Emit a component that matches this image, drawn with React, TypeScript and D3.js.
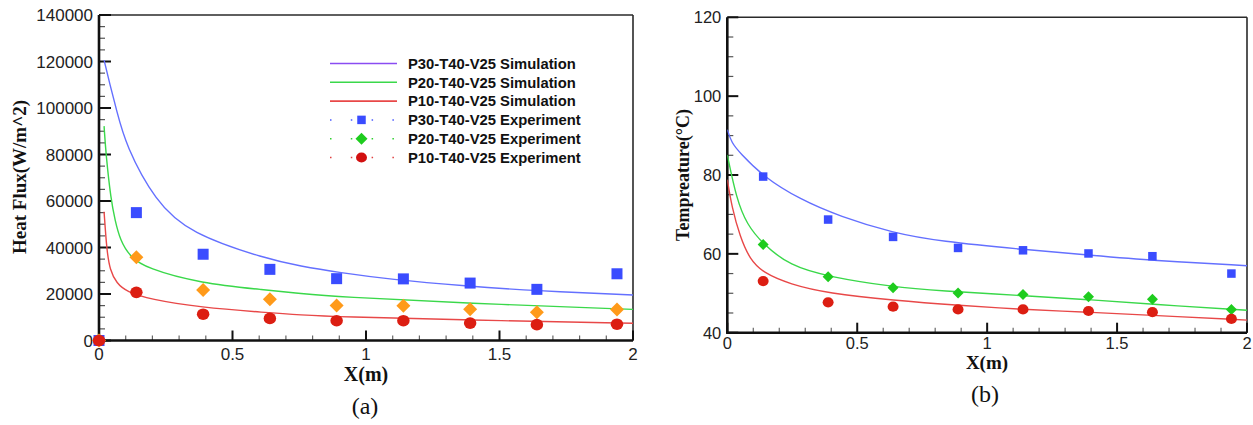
import React from "react";
import * as d3 from "d3";

// ---- Panel (a): heat flux along X ----
const xTicks = [0, 0.5, 1, 1.5, 2];
const xTickLabels = ["0", "0.5", "1", "1.5", "2"];
const fluxTicks = [0, 20000, 40000, 60000, 80000, 100000, 120000, 140000];
const fluxTickLabels = ["0", "20000", "40000", "60000", "80000", "100000", "120000", "140000"];

const xExpA = [0, 0.14, 0.39, 0.64, 0.89, 1.14, 1.39, 1.64, 1.94];
const fluxExpP30 = [0, 55000, 37100, 30600, 26600, 26500, 24700, 22000, 28700];
const fluxExpP20 = [0, 35800, 21700, 17700, 15100, 15000, 13400, 12100, 13300];
const fluxExpP10 = [0, 20700, 11300, 9500, 8500, 8500, 7500, 6800, 7000];

const xSimP30A = [0.019, 0.041, 0.066, 0.1, 0.21, 0.34, 0.63, 0.753, 0.9, 1.09, 1.377, 1.627, 2.0];
const fluxSimP30 = [120600, 110000, 99000, 84000, 60000, 46000, 35000, 32000, 29200, 26300, 23400, 21400, 19600];
const xSimP20A = [0.019, 0.026, 0.045, 0.06, 0.079, 0.116, 0.179, 0.378, 0.628, 0.753, 0.9, 1.377, 2.0];
const fluxSimP20 = [92200, 80000, 60300, 51800, 43200, 36000, 31000, 24600, 21700, 20200, 18800, 16000, 13400];
const xSimP10A = [0.019, 0.029, 0.041, 0.066, 0.104, 0.191, 0.378, 0.628, 0.753, 0.9, 1.377, 2.0];
const fluxSimP10 = [55400, 38900, 30300, 24600, 21000, 17700, 14300, 12000, 11000, 10200, 8800, 7400];

// ---- Panel (b): temperature along X ----
const tempTicks = [40, 60, 80, 100, 120];
const tempTickLabels = ["40", "60", "80", "100", "120"];

const xExpB = [0.138, 0.388, 0.638, 0.888, 1.138, 1.39, 1.636, 1.94];
const tempExpP30 = [79.6, 68.7, 64.3, 61.5, 60.9, 60.1, 59.4, 55.0];
const tempExpP20 = [62.4, 54.2, 51.4, 50.1, 49.7, 49.1, 48.5, 45.9];
const tempExpP10 = [53.1, 47.7, 46.6, 45.9, 45.9, 45.5, 45.2, 43.5];

const xSimP30B = [0, 0.017, 0.049, 0.138, 0.28, 0.433, 0.638, 0.818, 1.138, 1.39, 1.636, 2.0];
const tempSimP30 = [91.5, 88.1, 85.6, 79.6, 73.8, 69.5, 65.3, 63.2, 61.1, 59.7, 58.3, 57.0];
const xSimP20B = [0, 0.036, 0.075, 0.138, 0.241, 0.388, 0.638, 0.818, 1.138, 1.39, 1.636, 2.0];
const tempSimP20 = [85.1, 73.8, 67.5, 62.4, 57.0, 54.2, 51.6, 50.6, 49.4, 48.4, 47.2, 45.7];
const xSimP10B = [0, 0.017, 0.049, 0.087, 0.138, 0.241, 0.388, 0.638, 0.895, 1.138, 1.39, 1.636, 2.0];
const tempSimP10 = [78.8, 72.0, 64.3, 58.6, 55.2, 52.3, 50.0, 48.2, 46.9, 45.9, 45.2, 44.4, 43.2];

const legendLabels = [
  "P30-T40-V25 Simulation",
  "P20-T40-V25 Simulation",
  "P10-T40-V25 Simulation",
  "P30-T40-V25 Experiment",
  "P20-T40-V25 Experiment",
  "P10-T40-V25 Experiment",
];

const C = {
  blueLine: "#6470ff",
  purpleLegend: "#8a4cf2",
  greenLine: "#3ad84a",
  redLine: "#e84848",
  square: "#3a4cff",
  orange: "#ff9a1a",
  green: "#1ecc1e",
  red: "#dc1e12",
};

const NUM_FONT = "'Liberation Sans', Arial, sans-serif";
const TITLE_FONT = "'Liberation Serif', 'Times New Roman', serif";

type Pt = [number, number];
const zip = (xs: number[], ys: number[]): Pt[] => xs.map((x, i) => [x, ys[i]]);

function Marker({ kind, x, y, size, color }: { kind: string; x: number; y: number; size: number; color: string }) {
  if (kind === "square") {
    return <rect x={x - size / 2} y={y - size / 2} width={size} height={size} fill={color} />;
  }
  if (kind === "diamond") {
    const h = size / 2;
    return <path d={`M${x},${y - h}L${x + h},${y}L${x},${y + h}L${x - h},${y}Z`} fill={color} />;
  }
  return <ellipse cx={x} cy={y} rx={size / 2} ry={size / 2 - 0.4} fill={color} />;
}

function Axes({
  xs,
  ys,
  yTicks,
  yTickLabels,
  yMinorStep,
  yMajorLen,
  labelSize,
  xLabelDy,
}: {
  xs: d3.ScaleLinear<number, number>;
  ys: d3.ScaleLinear<number, number>;
  yTicks: number[];
  yTickLabels: string[];
  yMinorStep: number;
  yMajorLen: number;
  labelSize: number;
  xLabelDy: number;
}) {
  const [x0, x1] = xs.range();
  const [y0, y1] = ys.range();
  const [d0, d1] = ys.domain();
  const yMinor = d3.range(d0, d1 + 1e-9, yMinorStep).filter((v) => !yTicks.includes(v));
  const xMinor = d3.range(0, 2.0001, 0.1).filter((v) => Math.abs(v * 2 - Math.round(v * 2)) > 1e-6);
  return (
    <g>
      {/* frame */}
      <line x1={x0} y1={y1} x2={x1} y2={y1} stroke="#2a2a2a" strokeWidth={1.6} />
      <line x1={x1} y1={y1} x2={x1} y2={y0} stroke="#2a2a2a" strokeWidth={1.6} />
      {yMinor.map((v) => (
        <line key={"ym" + v} x1={x0} x2={x0 + 6} y1={ys(v)} y2={ys(v)} stroke="#555" strokeWidth={1.2} />
      ))}
      {yTicks.map((v) => (
        <line key={"yM" + v} x1={x0} x2={x0 + yMajorLen} y1={ys(v)} y2={ys(v)} stroke="#111" strokeWidth={2} />
      ))}
      {xMinor.map((v) => (
        <line key={"xm" + v} x1={xs(v)} x2={xs(v)} y1={y0} y2={y0 - 5} stroke="#666" strokeWidth={1.2} />
      ))}
      {xTicks.map((v) => (
        <line key={"xM" + v} x1={xs(v)} x2={xs(v)} y1={y0} y2={y0 - 10} stroke="#111" strokeWidth={2} />
      ))}
      <line x1={x0} y1={y1} x2={x0} y2={y0 + 1} stroke="#111" strokeWidth={2.6} />
      <line x1={x0 - 1} y1={y0} x2={x1} y2={y0} stroke="#111" strokeWidth={2.6} />
      {yTicks.map((v, i) => (
        <text
          key={"yl" + v}
          x={x0 - 6}
          y={ys(v)}
          dy="0.36em"
          textAnchor="end"
          fontFamily={NUM_FONT}
          fontSize={labelSize}
          fill="#222"
        >
          {yTickLabels[i]}
        </text>
      ))}
      {xTicks.map((v, i) => (
        <text
          key={"xl" + v}
          x={xs(v)}
          y={y0 + xLabelDy}
          textAnchor="middle"
          fontFamily={NUM_FONT}
          fontSize={labelSize}
          fill="#222"
        >
          {xTickLabels[i]}
        </text>
      ))}
    </g>
  );
}

export default function App() {
  const xA = d3.scaleLinear().domain([0, 2]).range([99, 633]);
  const yA = d3.scaleLinear().domain([0, 140000]).range([340.5, 15]);
  const xB = d3.scaleLinear().domain([0, 2]).range([727.3, 1247]);
  const yB = d3.scaleLinear().domain([40, 120]).range([332.7, 17.3]);

  const lineA = d3
    .line<Pt>()
    .x((d) => xA(d[0]))
    .y((d) => yA(d[1]))
    .curve(d3.curveBasis);
  const lineB = d3
    .line<Pt>()
    .x((d) => xB(d[0]))
    .y((d) => yB(d[1]))
    .curve(d3.curveBasis);

  const simA = [
    { pts: zip(xSimP10A, fluxSimP10), color: C.redLine },
    { pts: zip(xSimP20A, fluxSimP20), color: C.greenLine },
    { pts: zip(xSimP30A, fluxSimP30), color: C.blueLine },
  ];
  const expA = [
    { pts: zip(xExpA, fluxExpP30), kind: "square", color: C.square, size: 11 },
    { pts: zip(xExpA, fluxExpP20), kind: "diamond", color: C.orange, size: 14 },
    { pts: zip(xExpA, fluxExpP10), kind: "circle", color: C.red, size: 12.5 },
  ];
  const simB = [
    { pts: zip(xSimP10B, tempSimP10), color: C.redLine },
    { pts: zip(xSimP20B, tempSimP20), color: C.greenLine },
    { pts: zip(xSimP30B, tempSimP30), color: C.blueLine },
  ];
  const expB = [
    { pts: zip(xExpB, tempExpP30), kind: "square", color: C.square, size: 8.5 },
    { pts: zip(xExpB, tempExpP20), kind: "diamond", color: C.green, size: 11 },
    { pts: zip(xExpB, tempExpP10), kind: "circle", color: C.red, size: 11 },
  ];

  const legendColorsLine = [C.purpleLegend, C.greenLine, C.redLine];
  const legendMarkers = [
    { kind: "square", color: C.square, size: 8.5, dot: "#4a5aff" },
    { kind: "diamond", color: C.green, size: 12, dot: "#30d030" },
    { kind: "circle", color: "#d21010", size: 11, dot: "#e04040" },
  ];
  const legX0 = 330;
  const legX1 = 397;
  const legTextX = 408;
  const legY0 = 63.5;
  const legDy = 18.8;

  return (
    <svg width={1253} height={425} style={{ position: "absolute", left: 0, top: 0, background: "#fff" }}>
      <defs>
        <clipPath id="clipA">
          <rect x={99} y={15} width={534} height={326} />
        </clipPath>
        <clipPath id="clipB">
          <rect x={727.3} y={17.3} width={520} height={316} />
        </clipPath>
      </defs>
      <rect width={1253} height={425} fill="#fff" />

      {/* Panel (a) */}
      <Axes
        xs={xA}
        ys={yA}
        yTicks={fluxTicks}
        yTickLabels={fluxTickLabels}
        yMinorStep={5000}
        yMajorLen={12}
        labelSize={17}
        xLabelDy={19}
      />
      <g clipPath="url(#clipA)">
        {simA.map((s, i) => (
          <path key={i} d={lineA(s.pts) ?? ""} fill="none" stroke={s.color} strokeWidth={1.4} />
        ))}
      </g>
      {expA.map((s, i) =>
        s.pts.map((p, j) => (
          <Marker key={`a${i}-${j}`} kind={s.kind} x={xA(p[0])} y={yA(p[1])} size={s.size} color={s.color} />
        ))
      )}
      <text
        transform={`translate(26,177) rotate(-90)`}
        textAnchor="middle"
        fontFamily={TITLE_FONT}
        fontWeight="bold"
        fontSize={19}
        fill="#111"
      >
        Heat Flux(W/m^2)
      </text>
      <text x={366} y={381} textAnchor="middle" fontFamily={TITLE_FONT} fontWeight="bold" fontSize={20} fill="#111">
        X(m)
      </text>
      <text x={365} y={414} textAnchor="middle" fontFamily={TITLE_FONT} fontSize={24} fill="#111">
        (a)
      </text>

      {/* legend */}
      {legendLabels.map((lab, i) => {
        const y = legY0 + i * legDy;
        const isLine = i < 3;
        const m = legendMarkers[i - 3];
        return (
          <g key={lab}>
            {isLine ? (
              <line x1={legX0} x2={legX1} y1={y} y2={y} stroke={legendColorsLine[i]} strokeWidth={1.6} />
            ) : (
              <g>
                <line
                  x1={legX0}
                  x2={legX1}
                  y1={y}
                  y2={y}
                  stroke={m.dot}
                  strokeWidth={1.5}
                  strokeDasharray="1.5,19.3"
                />
                <Marker kind={m.kind} x={(legX0 + legX1) / 2 - 2} y={y} size={m.size} color={m.color} />
              </g>
            )}
            <text
              x={legTextX}
              y={y}
              dy="0.36em"
              fontFamily={NUM_FONT}
              fontWeight="bold"
              fontSize={14.8}
              fill="#111"
            >
              {lab}
            </text>
          </g>
        );
      })}

      {/* Panel (b) */}
      <Axes
        xs={xB}
        ys={yB}
        yTicks={tempTicks}
        yTickLabels={tempTickLabels}
        yMinorStep={5}
        yMajorLen={11}
        labelSize={16.5}
        xLabelDy={16.5}
      />
      <g clipPath="url(#clipB)">
        {simB.map((s, i) => (
          <path key={i} d={lineB(s.pts) ?? ""} fill="none" stroke={s.color} strokeWidth={1.4} />
        ))}
      </g>
      {expB.map((s, i) =>
        s.pts.map((p, j) => (
          <Marker key={`b${i}-${j}`} kind={s.kind} x={xB(p[0])} y={yB(p[1])} size={s.size} color={s.color} />
        ))
      )}
      <text
        transform={`translate(689,175) rotate(-90)`}
        textAnchor="middle"
        fontFamily={TITLE_FONT}
        fontSize={18}
        fontWeight={600}
        fill="#111"
      >
        Tempreature(°C)
      </text>
      <text x={987} y={369} textAnchor="middle" fontFamily={TITLE_FONT} fontWeight="bold" fontSize={19} fill="#111">
        X(m)
      </text>
      <text x={985} y={402} textAnchor="middle" fontFamily={TITLE_FONT} fontSize={24} fill="#111">
        (b)
      </text>
    </svg>
  );
}
